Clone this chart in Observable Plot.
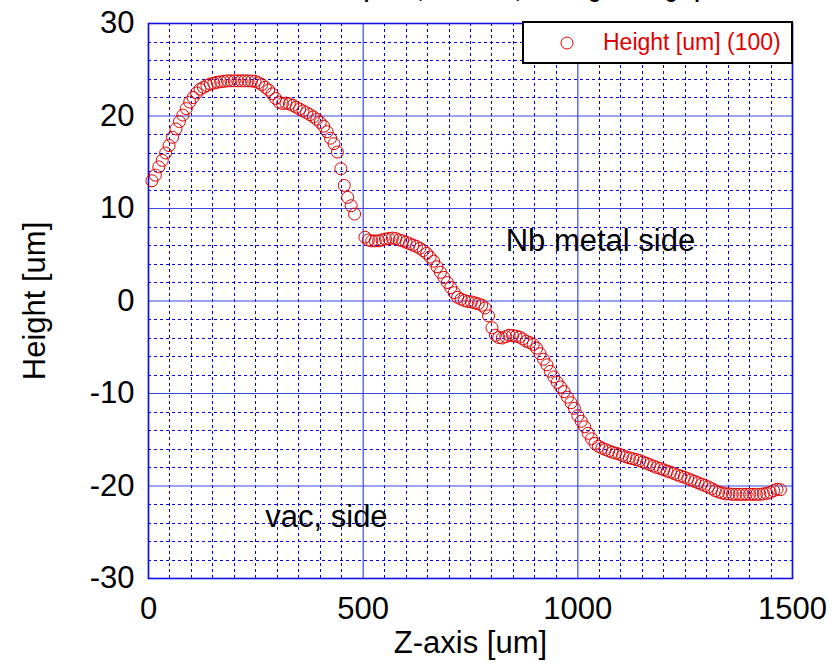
<!DOCTYPE html>
<html>
<head>
<meta charset="utf-8">
<script src="https://cdn.jsdelivr.net/npm/d3@7"></script>
<script src="https://cdn.jsdelivr.net/npm/@observablehq/plot@0.6"></script>
<style>
  html, body { margin: 0; padding: 0; background: #fff; }
  #wrap { position: relative; width: 836px; height: 666px; overflow: hidden; }
  #legend {
    position: absolute; left: 522px; top: 21px; width: 267px; height: 39px;
    background: #fff; border: 2px solid #000;
    font-family: "Liberation Sans", Arial, sans-serif; font-size: 23px; color: #e00000;
  }
  #legend svg { position: absolute; left: 36px; top: 13px; }
  #legend span { position: absolute; left: 79px; top: 6px; white-space: nowrap; }
</style>
</head>
<body>
<div id="wrap">
  <div id="legend"><svg width="14" height="14"><circle cx="7" cy="7" r="6" fill="none" stroke="#e00000" stroke-width="1"/></svg><span>Height [um] (100)</span></div>
</div>
<script>
// Surface height profile along the z axis (um)
const zLeft = [8,16,24,32,40,48,56,64,72,80,88,96,104,112,120,128,136,144,152,160,
  168,176,184,192,200,208,216,224,232,240,248,256,264,272,280,288,296,304,312,320,
  328,336,344,352,360,368,376,384,392,400,408,416,424,432,440,448,456,464,472,480];
const hLeft = [13.0,13.6,14.5,15.2,16.0,16.8,17.7,18.6,19.4,20.1,20.8,21.5,22.0,22.5,22.9,23.1,23.3,23.45,23.55,23.65,
  23.7,23.75,23.8,23.8,23.8,23.8,23.8,23.8,23.8,23.78,23.75,23.6,23.4,23.1,22.8,22.4,21.9,21.5,21.35,21.4,
  21.3,21.15,20.95,20.75,20.55,20.35,20.15,19.9,19.65,19.3,18.9,18.3,17.6,17.0,16.1,14.3,12.5,11.2,10.3,9.4];

const zRight = [504,512,520,528,536,544,552,560,568,576,584,592,600,608,616,624,632,640,648,656,
  664,672,680,688,696,704,712,720,728,736,744,752,760,768,776,784,792,800,808,816,
  824,832,840,848,856,864,872,880,888,896,904,912,920,928,936,944,952,960,968,976,
  984,992,1000,1008,1016,1024,1032,1040,1048,1056,1064,1072,1080,1088,1096,1104,1112,1120,1128,1136,
  1144,1152,1160,1168,1176,1184,1192,1200,1208,1216,1224,1232,1240,1248,1256,1264,1272,1280,1288,1296,
  1304,1312,1320,1328,1336,1344,1352,1360,1368,1376,1384,1392,1400,1408,1416,1424,1432,1440,1448,1456,
  1464,1472];
const hRight = [6.9,6.6,6.5,6.5,6.5,6.6,6.7,6.75,6.8,6.75,6.6,6.5,6.35,6.2,6.05,5.9,5.7,5.45,5.15,4.75,
  4.3,3.7,3.1,2.55,2.0,1.45,0.9,0.4,0.2,0.05,-0.05,-0.1,-0.2,-0.3,-0.45,-0.75,-1.6,-2.9,-3.7,-3.95,
  -4.0,-3.85,-3.7,-3.75,-3.8,-3.9,-4.1,-4.35,-4.5,-4.7,-5.1,-5.7,-6.3,-6.9,-7.6,-8.2,-8.8,-9.3,-9.8,-10.4,
  -11.0,-11.6,-12.4,-13.0,-13.6,-14.3,-14.9,-15.4,-15.7,-15.9,-16.05,-16.2,-16.35,-16.45,-16.55,-16.7,-16.85,-16.95,-17.05,-17.15,
  -17.25,-17.4,-17.55,-17.7,-17.85,-18.0,-18.1,-18.25,-18.4,-18.5,-18.65,-18.8,-18.95,-19.05,-19.2,-19.35,-19.5,-19.65,-19.8,-19.95,
  -20.1,-20.3,-20.5,-20.65,-20.75,-20.85,-20.85,-20.9,-20.9,-20.9,-20.9,-20.9,-20.9,-20.9,-20.9,-20.9,-20.85,-20.8,-20.7,-20.5,
  -20.35,-20.4];

const xTicks = [0, 500, 1000, 1500];
const yTicks = [-30, -20, -10, 0, 10, 20, 30];
const notes = [
  {z: 832, h: 6.5, text: "Nb metal side"},
  {z: 272, h: -23.4, text: "vac, side"}
];
const titleText = "Nb surface for equator, x = 0 mm, 180 deg heating spot";

const points = [
  ...zLeft.map((z, i) => ({z, h: hLeft[i]})),
  ...zRight.map((z, i) => ({z, h: hRight[i]}))
];

// minor grid every 50 um in z and every 2 um in height
const xMinor = d3.range(0, 1501, 50).filter(v => v % 500 !== 0);
const yMinor = d3.range(-30, 31, 2).filter(v => v % 10 !== 0);

const font = "'Liberation Sans', Arial, sans-serif";

const chart = Plot.plot({
  width: 836,
  height: 666,
  marginLeft: 148,
  marginRight: 44,
  marginTop: 23,
  marginBottom: 88,
  style: {fontFamily: font, fontSize: "31px", color: "#000", background: "#fff", overflow: "visible"},
  x: {domain: [0, 1500], ticks: xTicks, tickSize: 0, tickPadding: 18, tickFormat: d => `${d}`, label: null},
  y: {domain: [-30, 30], ticks: yTicks, tickSize: 0, tickPadding: 14, tickFormat: d => `${d}`, label: null},
  marks: [
    Plot.ruleX(xMinor, {stroke: "#0000e8", strokeWidth: 1, strokeDasharray: "3,3", shapeRendering: "crispEdges"}),
    Plot.ruleY(yMinor, {stroke: "#0000e8", strokeWidth: 1, strokeDasharray: "3,3", shapeRendering: "crispEdges"}),
    Plot.ruleX(xTicks, {stroke: "#3848e0", strokeWidth: 1.2}),
    Plot.ruleY(yTicks, {stroke: "#3848e0", strokeWidth: 1.2}),
    Plot.frame({stroke: "#1010e0", strokeWidth: 1.6}),
    Plot.dot(points, {x: "z", y: "h", r: 6, stroke: "#e00000", strokeWidth: 1, fill: "none"}),
    Plot.text(notes, {x: "z", y: "h", text: "text", textAnchor: "start", fontSize: 31, fill: "#000"}),
    Plot.text(["Z-axis [um]"], {frameAnchor: "bottom", textAnchor: "middle", lineAnchor: "middle", dy: 65, fontSize: 31, fill: "#000"}),
    Plot.text(["Height [um]"], {frameAnchor: "left", textAnchor: "middle", lineAnchor: "middle", dx: -113, rotate: -90, fontSize: 31, fill: "#000"})
  ]
});

d3.select(chart).append("text")
  .attr("x", 465).attr("y", -2)
  .attr("text-anchor", "middle")
  .attr("font-family", font)
  .attr("font-weight", "bold")
  .attr("font-size", 20)
  .attr("fill", "#000")
  .text(titleText);

const wrap = document.getElementById("wrap");
wrap.insertBefore(chart, wrap.firstChild);
</script>
</body>
</html>
